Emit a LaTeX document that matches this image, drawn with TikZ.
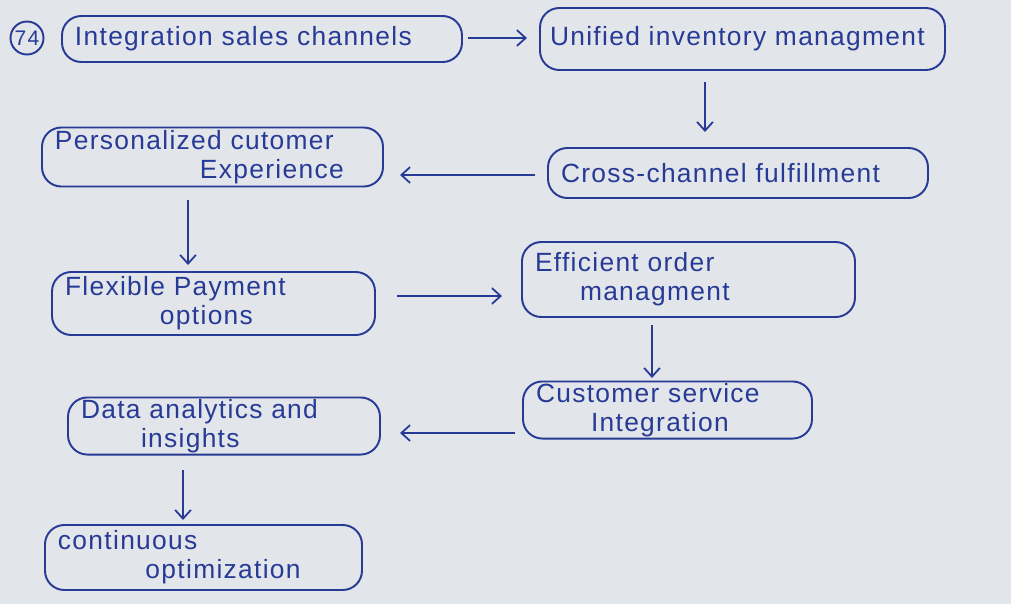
\documentclass[tikz,border=0pt]{standalone}
\usepackage{fontspec}
\setmainfont{Liberation Sans}[LetterSpace=5]
\usetikzlibrary{arrows.meta}
\definecolor{ink}{RGB}{38,58,150}
\definecolor{paper}{RGB}{226,229,233}
\tikzset{
  stage/.style={draw=ink,text=ink,line width=1.1pt,rounded corners=11pt,align=left,inner xsep=0.26cm,inner ysep=1pt,
    font=\fontsize{15}{16.5}\selectfont},
  arr/.style={draw=ink,line width=1pt,-{Straight Barb[length=5pt,width=9pt]}}
}
\begin{document}
\begin{tikzpicture}
                \fill[paper] (0,0) rectangle (20.22,-12.08);
                \useasboundingbox (0,0) rectangle (20.22,-12.08);
                \node[circle,draw=ink,line width=1.1pt,text=ink,minimum size=0.66cm,inner sep=0pt,font=\large] (num) at (0.54,-0.76) {74};
                \node[stage,text width=7.48cm,minimum height=0.92cm] (chan) at (5.24,-0.78) {Integration sales channels};
                \node[stage,inner xsep=0.2cm,text width=7.7cm,minimum height=1.24cm] (inv) at (14.85,-0.78) {Unified inventory managment};
                \node[stage,text width=7.08cm,minimum height=1.0cm] (ful) at (14.76,-3.46) {Cross-channel fulfillment};
                \node[stage,text width=6.3cm,minimum height=1.18cm] (pers) at (4.25,-3.14) {Personalized cutomer\\\hspace*{2.9cm}Experience};
                \node[stage,text width=5.94cm,minimum height=1.26cm] (pay) at (4.27,-6.07) {Flexible Payment\\\hspace*{1.9cm}options};
                \node[stage,text width=6.14cm,minimum height=1.5cm] (ord) at (13.77,-5.59) {Efficient order\\\hspace*{0.9cm}managment};
                \node[stage,text width=5.26cm,minimum height=0.88cm] (serv) at (13.35,-8.2) {Customer service\\\hspace*{1.1cm}Integration};
                \node[stage,text width=5.72cm,minimum height=1.14cm] (data) at (4.48,-8.52) {Data analytics and\\\hspace*{1.2cm}insights};
                \node[stage,text width=5.82cm,minimum height=1.3cm] (opt) at (4.07,-11.15) {continuous\\\hspace*{1.75cm}optimization};
                \draw[arr] ([xshift=4.12cm,yshift=0.02cm]chan.center) -- ([xshift=-4.31cm,yshift=0.02cm]inv.center);
                \draw[arr] ([xshift=-0.75cm,yshift=-0.86cm]inv.center) -- ([xshift=-0.66cm,yshift=0.82cm]ful.center);
                \draw[arr] ([xshift=-4.06cm,yshift=-0.04cm]ful.center) -- ([xshift=3.75cm,yshift=-0.36cm]pers.center);
                \draw[arr] ([xshift=-0.49cm,yshift=-0.86cm]pers.center) -- ([xshift=-0.51cm,yshift=0.77cm]pay.center);
                \draw[arr] ([xshift=3.67cm,yshift=0.15cm]pay.center) -- ([xshift=-3.73cm,yshift=-0.33cm]ord.center);
                \draw[arr] ([xshift=-0.73cm,yshift=-0.91cm]ord.center) -- ([xshift=-0.31cm,yshift=0.64cm]serv.center);
                \draw[arr] ([xshift=-3.05cm,yshift=-0.46cm]serv.center) -- ([xshift=3.52cm,yshift=-0.14cm]data.center);
                \draw[arr] ([xshift=-0.82cm,yshift=-0.88cm]data.center) -- ([xshift=-0.41cm,yshift=0.75cm]opt.center);
              \end{tikzpicture}
\end{document}
